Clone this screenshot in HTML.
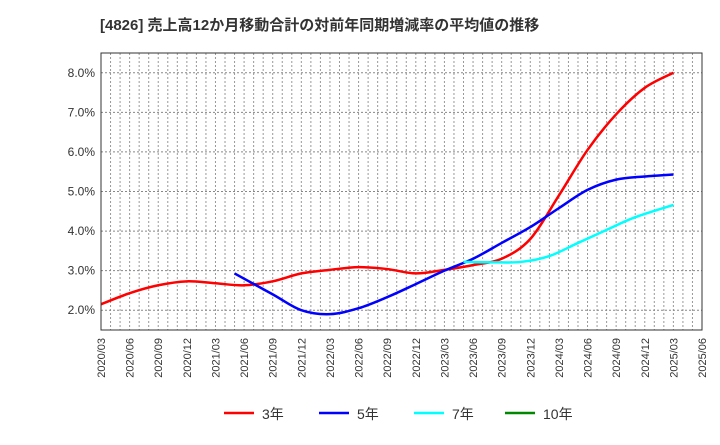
<!DOCTYPE html>
<html><head><meta charset="utf-8"><style>
body{margin:0;background:#fff;font-family:"Liberation Sans","Noto Sans CJK JP",sans-serif}
</style></head><body>
<svg id="c" width="720" height="440" xmlns="http://www.w3.org/2000/svg" style="font-family:'Liberation Sans','Noto Sans CJK JP',sans-serif">
<text x="100" y="30" font-size="15" font-weight="bold" fill="#333">[4826]  売上高12か月移動合計の対前年同期増減率の平均値の推移</text>
<g id="grid"></g><g id="series"></g><g id="axes"></g><g id="legend"></g>
</svg>
<script>
const xLabels=["2020/03","2020/06","2020/09","2020/12","2021/03","2021/06","2021/09","2021/12","2022/03","2022/06","2022/09","2022/12","2023/03","2023/06","2023/09","2023/12","2024/03","2024/06","2024/09","2024/12","2025/03","2025/06"];
const yTicks=[2,3,4,5,6,7,8];
// month index from 2020/03
const s3m=[0,3,6,9,12,15,18,21,24,27,30,33,36,39,42,45,48,51,54,57,60];
const s3v=[2.15,2.43,2.63,2.73,2.68,2.63,2.73,2.93,3.02,3.09,3.04,2.93,3.02,3.14,3.3,3.8,4.9,6.05,6.95,7.62,8.0];
const s5m=[14,18,21,24,27,30,33,36,39,42,45,48,51,54,57,60];
const s5v=[2.93,2.4,2.0,1.9,2.05,2.33,2.66,3.0,3.3,3.7,4.1,4.58,5.04,5.3,5.38,5.43];
const s7m=[38,41,44,47,50,53,56,60];
const s7v=[3.22,3.21,3.22,3.37,3.7,4.03,4.35,4.66];
const s10m=[];const s10v=[];
const L=101,R=702,T=53,B=330,ymin=1.5,ymax=8.5,nM=63;
const X=m=>L+(R-L)*m/nM, Y=v=>B-(B-T)*(v-ymin)/(ymax-ymin);
const NS="http://www.w3.org/2000/svg";
function mk(t,a,p){const e=document.createElementNS(NS,t);for(const k in a)e.setAttribute(k,a[k]);p.appendChild(e);return e;}
const g=document.getElementById('grid'),ax=document.getElementById('axes'),se=document.getElementById('series'),lg=document.getElementById('legend');
for(let m=1;m<nM;m++){const l=mk('line',{x1:X(m),x2:X(m),y1:T,y2:B,stroke:'#999','stroke-dasharray':'2,2','stroke-width':1},g);

}
yTicks.forEach(v=>{const l=mk('line',{x1:L,x2:R,y1:Y(v),y2:Y(v),stroke:'#888','stroke-dasharray':'2,2','stroke-width':1},g);


const t=mk('text',{x:L-6,y:Y(v)+4,'text-anchor':'end','font-size':12,fill:'#333'},ax);t.textContent=v.toFixed(1)+'%';

});
const fr=mk('rect',{x:L,y:T,width:R-L,height:B-T,fill:'none',stroke:'#333','stroke-width':1},ax);


xLabels.forEach((s,i)=>{const x=X(i*3),y=B+8;const t=mk('text',{x:x+4,y:y,transform:`rotate(-90 ${x+4} ${y})`,'text-anchor':'end','font-size':11,fill:'#333'},ax);t.textContent=s;

});
function path(ms,vs){const p=ms.map((m,i)=>[X(m),Y(vs[i])]);if(!p.length)return'';let d=`M${p[0][0]},${p[0][1]}`;
for(let i=0;i<p.length-1;i++){const p0=p[i-1]||p[i],p1=p[i],p2=p[i+1],p3=p[i+2]||p2;
d+=` C${p1[0]+(p2[0]-p0[0])/6},${p1[1]+(p2[1]-p0[1])/6} ${p2[0]-(p3[0]-p1[0])/6},${p2[1]-(p3[1]-p1[1])/6} ${p2[0]},${p2[1]}`;}return d;}
const ser=[[s3m,s3v,'#f00','3年','series-3y'],[s5m,s5v,'#00f','5年','series-5y'],[s7m,s7v,'#0ff','7年','series-7y'],[s10m,s10v,'#080','10年','series-10y']];
ser.forEach(([m,v,c,n,id])=>{if(!m.length)return;const p=mk('path',{d:path(m,v),fill:'none',stroke:c,'stroke-width':2.5},se);

});
const lx=[224,319,414,505];
ser.forEach(([m,v,c,n,id],i)=>{const l=mk('line',{x1:lx[i],x2:lx[i]+30,y1:413,y2:413,stroke:c,'stroke-width':2.5},lg);


const t=mk('text',{x:lx[i]+38,y:419,'font-size':14,fill:'#333'},lg);t.textContent=n;

});
</script>
</body></html>
